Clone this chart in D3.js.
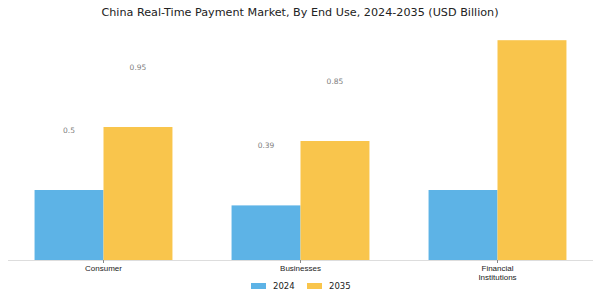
<!DOCTYPE html>
<html>
<head>
<meta charset="utf-8">
<script src="https://cdn.jsdelivr.net/npm/d3@7"></script>
<style>
  body { margin: 0; background: #fff; }
  svg { font-family: "DejaVu Sans", sans-serif; }
</style>
</head>
<body>
<div id="chart"></div>
<script>
const categories = ['Consumer', 'Businesses', 'Financial Institutions'];
const years = ['2024', '2035'];
const values2024 = [0.5, 0.39, 0.5];
const values2035 = [0.95, 0.85, 1.57];
// labels only printed for the first two groups in the original
const labels2024 = ['0.5', '0.39', null];
const labels2035 = ['0.95', '0.85', null];

const colors = {'2024': '#5db3e6', '2035': '#f9c54c'};

const w = 600, h = 300;
const baseY = 260;

const svg = d3.select('#chart')
  .append('svg')
  .attr('width', w)
  .attr('height', h);

// title
svg.append('text')
  .attr('x', w / 2)
  .attr('y', 15.5)
  .attr('text-anchor', 'middle')
  .style('font-size', '11.2px')
  .style('fill', '#222')
  .text('China Real-Time Payment Market, By End Use, 2024-2035 (USD Billion)');

const x0 = d3.scaleBand().domain(categories).range([5, 596]).padding(0);
const step = x0.bandwidth();
const x1 = d3.scaleBand().domain(years).range([step * 0.15, step * 0.85]).padding(0);
const y = d3.scaleLinear().domain([0, 1.6]).range([baseY, 36]);

const rows = categories.map((c, i) => ({
  cat: c,
  bars: [
    {year: '2024', v: values2024[i], label: labels2024[i]},
    {year: '2035', v: values2035[i], label: labels2035[i]}
  ]
}));

const groups = svg.append('g').selectAll('g.grp')
  .data(rows)
  .enter()
  .append('g')
  .attr('class', 'grp')
  .attr('transform', d => `translate(${x0(d.cat)},0)`);

groups.selectAll('rect')
  .data(d => d.bars)
  .enter()
  .append('rect')
  .attr('x', b => x1(b.year))
  .attr('y', b => y(b.v))
  .attr('width', x1.bandwidth())
  .attr('height', b => baseY - y(b.v))
  .style('fill', b => colors[b.year]);

// value labels sit well above their bars
groups.selectAll('text.val')
  .data(d => d.bars.filter(b => b.label))
  .enter()
  .append('text')
  .attr('class', 'val')
  .attr('x', b => x1(b.year) + x1.bandwidth() / 2)
  .attr('y', b => y(b.v) - 57)
  .attr('text-anchor', 'middle')
  .style('font-size', '7.5px')
  .style('fill', '#808080')
  .text(b => b.label);

// x axis
const axis = svg.append('g')
  .attr('transform', `translate(0,${baseY})`)
  .call(d3.axisBottom(x0).tickSize(3).tickSizeOuter(0).tickFormat(''));
axis.select('.domain').attr('stroke', '#ddd').attr('d', 'M8,0.5H593');
axis.selectAll('.tick line').attr('stroke', '#888');

const catText = axis.selectAll('.tick')
  .append('text')
  .attr('fill', '#222')
  .attr('text-anchor', 'middle')
  .style('font-size', '8px');
catText.each(function(d) {
  const lines = d === 'Financial Institutions' ? ['Financial', 'Institutions'] : [d];
  d3.select(this).selectAll('tspan')
    .data(lines)
    .enter()
    .append('tspan')
    .attr('x', 0)
    .attr('y', (l, i) => 11 + i * 9)
    .text(l => l);
});

// legend
const legend = svg.append('g').attr('transform', 'translate(251,286)');
years.forEach((yr, i) => {
  const gx = i * 56;
  legend.append('rect')
    .attr('x', gx)
    .attr('y', -3)
    .attr('width', 15)
    .attr('height', 6)
    .style('fill', colors[yr]);
  legend.append('text')
    .attr('x', gx + 22)
    .attr('y', 3)
    .style('font-size', '8.5px')
    .style('fill', '#222')
    .text(yr);
});
</script>
</body>
</html>
